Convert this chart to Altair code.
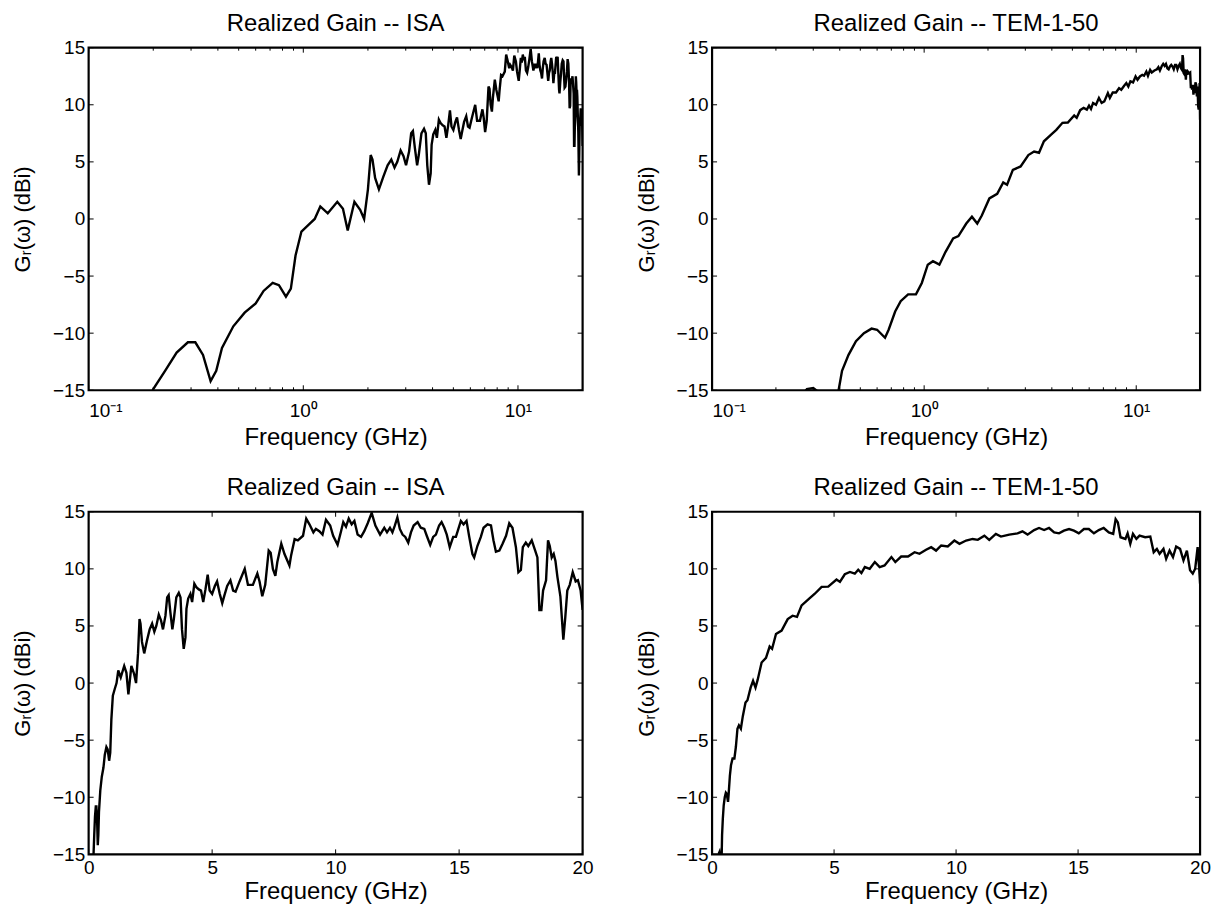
import altair as alt
import pandas as pd

# ---------------- data ----------------
isa_freq = [0.19, 0.2, 0.227, 0.257, 0.29, 0.314, 0.341, 0.37, 0.393, 0.418, 0.472, 0.533, 0.60, 0.653,
            0.72, 0.77, 0.83, 0.875, 0.92, 0.98, 1.06, 1.13, 1.2, 1.3, 1.44, 1.53, 1.61, 1.73, 1.84,
            1.92, 2.0, 2.06, 2.1, 2.16, 2.25, 2.36, 2.47, 2.57, 2.66, 2.74, 2.84, 2.93, 3.01, 3.11,
            3.18, 3.24, 3.31, 3.39, 3.45, 3.55, 3.65, 3.72, 3.78, 3.85, 3.92, 3.96, 4.03, 4.12, 4.19,
            4.28, 4.36, 4.46, 4.55, 4.64, 4.73, 4.82, 4.9, 5.0, 5.11, 5.2, 5.31, 5.41, 5.5, 5.61,
            5.74, 5.85, 5.95, 6.11, 6.32, 6.45, 6.65, 6.83, 6.92, 7.03, 7.15, 7.29, 7.37, 7.46, 7.56,
            7.64, 7.8, 7.93, 8.13, 8.2, 8.34, 8.47, 8.68, 8.81, 8.94, 9.1, 9.2, 9.34, 9.47, 9.61,
            9.78, 9.9, 10.08, 10.22, 10.31, 10.42, 10.53, 10.65, 10.76, 10.89, 11.03, 11.16, 11.3,
            11.46, 11.61, 11.8, 11.97, 12.08, 12.2, 12.3, 12.4, 12.5, 12.6, 12.71, 12.82, 12.94,
            13.05, 13.16, 13.32, 13.45, 13.59, 13.69, 13.83, 13.95, 14.06, 14.19, 14.29, 14.4, 14.5,
            14.62, 14.76, 14.87, 14.97, 15.07, 15.18, 15.3, 15.41, 15.54, 15.61, 15.74, 15.88, 15.99,
            16.15, 16.29, 16.39, 16.49, 16.63, 16.76, 16.9, 17.03, 17.16, 17.3, 17.4, 17.5, 17.58,
            17.7, 17.8, 17.94, 18.08, 18.17, 18.25, 18.33, 18.4, 18.52, 18.6, 18.67, 18.75, 18.83,
            18.9, 18.98, 19.1, 19.22, 19.3, 19.38, 19.48, 19.6, 19.72, 19.81, 19.92, 20.0]
isa_gain = [-16.0, -14.9, -13.3, -11.7, -10.8, -10.8, -11.9, -14.2, -13.3, -11.3, -9.4, -8.2, -7.4, -6.3,
            -5.6, -5.8, -6.8, -6.1, -3.2, -1.1, -0.5, 0.0, 1.1, 0.5, 1.5, 0.9, -1.0, 1.5, 0.8,
            0.0, 2.6, 5.6, 5.2, 3.6, 2.6, 3.7, 4.7, 5.2, 4.5, 5.0, 6.0, 5.5, 4.7, 5.9,
            7.5, 7.7, 6.2, 4.7, 5.6, 7.5, 7.9, 7.5, 4.7, 3.0, 4.0, 6.5, 7.4, 7.8, 7.1,
            8.7, 8.4, 8.2, 8.1, 7.1, 8.2, 9.5, 8.1, 7.8, 8.5, 8.9, 7.8, 7.0, 7.7, 8.5,
            9.0, 8.1, 8.0, 8.9, 10.0, 8.6, 8.6, 9.6, 8.9, 7.6, 8.6, 11.6, 11.4, 10.0, 9.4,
            10.6, 12.2, 11.3, 10.3, 11.2, 12.6, 12.5, 12.9, 14.4, 13.9, 13.2, 13.5, 13.3, 13.0, 14.3,
            13.8, 12.9, 12.1, 13.3, 14.1, 13.7, 14.4, 13.9, 14.2, 13.0, 12.8, 13.3, 14.0,
            14.9, 13.8, 13.0, 13.6, 13.2, 13.6, 13.2, 13.8, 14.5, 13.5, 13.0, 12.8, 12.3,
            13.2, 13.8, 14.1, 13.6, 13.5, 12.9, 12.1, 12.8, 13.0, 13.8, 14.1, 13.6, 13.0,
            11.9, 12.8, 12.8, 13.5, 14.2, 13.9, 14.2, 12.8, 11.3, 11.0, 12.0, 12.8, 13.6,
            13.9, 13.8, 12.5, 11.5, 11.6, 12.2, 12.9, 14.0, 13.6, 11.9, 9.7, 9.9, 11.9,
            12.3, 12.0, 12.5, 11.6, 11.0, 6.4, 6.4, 8.1, 9.0, 12.5, 12.0, 11.0, 11.3,
            10.7, 9.3, 7.6, 3.8, 5.8, 8.1, 8.6, 9.7, 8.9, 9.0, 8.1, 6.4]

tem_freq = [0.25, 0.28, 0.30, 0.32, 0.36, 0.395, 0.41, 0.44, 0.477, 0.52, 0.565, 0.60, 0.654, 0.68,
            0.73, 0.775, 0.84, 0.915, 0.975, 1.04, 1.1, 1.18, 1.26, 1.37, 1.45, 1.58, 1.68, 1.78,
            1.87, 2.03, 2.21, 2.36, 2.46, 2.62, 2.85, 3.1, 3.3, 3.48, 3.67, 3.98, 4.2, 4.49, 4.76,
            5.1, 5.24, 5.44, 5.65, 5.85, 5.99, 6.12, 6.26, 6.46, 6.67, 6.87, 7.07, 7.35, 7.51, 7.75,
            8.03, 8.3, 8.5, 8.77, 8.98, 9.18, 9.39, 9.66, 9.93, 10.14, 10.41, 10.68, 10.89, 11.16,
            11.36, 11.63, 11.84, 12.18, 12.52, 12.72, 12.93, 13.2, 13.4, 13.61, 13.81, 14.02, 14.22,
            14.42, 14.63, 14.83, 15.03, 15.24, 15.44, 15.65, 15.85, 16.05, 16.26, 16.44, 16.54,
            16.63, 16.74, 16.94, 17.03, 17.14, 17.25, 17.39, 17.52, 17.75, 17.96, 18.1, 18.23,
            18.34, 18.5, 18.61, 18.75, 18.89, 19.02, 19.18, 19.32, 19.46, 19.59, 19.7, 19.8, 19.9,
            19.96, 20.0]
tem_gain = [-16.0, -14.9, -14.8, -15.2, -16.5, -15.0, -13.3, -11.9, -10.7, -10.0, -9.6, -9.7, -10.4, -9.7,
            -8.1, -7.2, -6.6, -6.6, -5.6, -4.0, -3.7, -4.0, -2.9, -1.7, -1.5, -0.4, 0.2, -0.4,
            0.3, 1.8, 2.2, 3.2, 3.0, 4.3, 4.6, 5.6, 5.9, 5.8, 6.8, 7.4, 7.8, 8.42, 8.45,
            9.06, 8.86, 9.53, 9.73, 9.58, 9.93, 9.64, 10.16, 10.01, 10.6, 10.16, 10.3, 11.03, 10.6, 11.08,
            11.08, 11.46, 11.32, 11.67, 11.9, 11.6, 12.05, 11.96, 12.48, 12.19, 12.48, 12.62, 12.54, 12.91,
            12.54, 13.06, 12.83, 13.0, 13.11, 13.29, 13.0, 13.4, 13.58, 13.4, 13.58, 13.2, 13.11,
            13.35, 13.49, 13.35, 13.11, 13.49, 13.49, 13.11, 13.4, 13.58, 13.2, 13.06, 14.35,
            14.07, 12.77, 12.62, 13.11, 12.19, 13.06, 12.62, 12.91, 12.77, 12.83, 11.46, 11.75,
            11.32, 11.75, 10.88, 11.6, 11.03, 11.96, 11.75, 10.74, 11.6, 9.87, 9.58, 10.01, 11.9,
            10.16, 8.7]

log_major = [0.1, 1, 10]
log_minor = [0.2, 0.3, 0.4, 0.5, 0.6, 0.7, 0.8, 0.9, 2, 3, 4, 5, 6, 7, 8, 9]
lin_major = [0, 5, 10, 15, 20]
y_major = [-15, -10, -5, 0, 5, 10, 15]

titles = ["Realized Gain -- ISA", "Realized Gain -- TEM-1-50"]
x_title = "Frequency (GHz)"
y_title = "Gᵣ(ω) (dBi)"

FONT = "Liberation Sans"
W_L, W_R, H = 496, 490, 344
TICK = 5
MINOR = 3
LABEL_FS = 19


def panel(freq, gain, title, log, width, xtitle_y, label_pad):
    df = pd.DataFrame({"f": freq, "g": gain})
    if log:
        xscale = alt.Scale(type="log", domain=[0.1, 20], nice=False)
        xaxis = alt.Axis(values=log_major, ticks=False, domain=False, grid=False,
                         labelExpr="datum.value < 0.5 ? '10⁻¹' : (datum.value < 5 ? '10⁰' : '10¹')",
                         labelFontSize=LABEL_FS, labelPadding=label_pad, title=x_title,
                         titleY=xtitle_y, titleBaseline="alphabetic")
        majors = log_major
    else:
        xscale = alt.Scale(domain=[0, 20], nice=False, zero=False)
        xaxis = alt.Axis(values=lin_major, ticks=False, domain=False, grid=False,
                         labelFontSize=LABEL_FS, labelPadding=label_pad, title=x_title,
                         titleY=xtitle_y, titleBaseline="alphabetic", labelFlush=False)
        majors = lin_major
    yscale = alt.Scale(domain=[-15, 15], nice=False, zero=False)
    yaxis = alt.Axis(values=y_major, ticks=False, domain=False, grid=False,
                     labelFontSize=LABEL_FS, labelPadding=4, title=y_title, titleAngle=270,
                     titleFontSize=22, titleX=-59, titleY=H / 2, titleBaseline="alphabetic",
                     titleAlign="center")

    X = lambda fld: alt.X(fld, scale=xscale, axis=xaxis)
    Y = lambda fld: alt.Y(fld, scale=yscale, axis=yaxis)

    line = alt.Chart(df).mark_line(color="black", strokeWidth=2.4, clip=True).encode(
        x=X("f:Q"), y=Y("g:Q"))
    xt = pd.DataFrame({"t": majors})
    yt = pd.DataFrame({"t": y_major})
    rule = dict(color="black", strokeWidth=1)
    layers = [
        alt.Chart(xt).mark_rule(**rule).encode(x=X("t:Q"), y=alt.value(H), y2=alt.value(H - TICK)),
        alt.Chart(xt).mark_rule(**rule).encode(x=X("t:Q"), y=alt.value(0), y2=alt.value(TICK)),
        alt.Chart(yt).mark_rule(**rule).encode(y=Y("t:Q"), x=alt.value(0), x2=alt.value(TICK)),
        alt.Chart(yt).mark_rule(**rule).encode(y=Y("t:Q"), x=alt.value(width), x2=alt.value(width - TICK)),
    ]
    if log:
        mt = pd.DataFrame({"t": log_minor})
        layers += [
            alt.Chart(mt).mark_rule(**rule).encode(x=X("t:Q"), y=alt.value(H), y2=alt.value(H - MINOR)),
            alt.Chart(mt).mark_rule(**rule).encode(x=X("t:Q"), y=alt.value(0), y2=alt.value(MINOR)),
        ]
    return alt.layer(line, *layers).properties(
        width=width, height=H,
        title=alt.TitleParams(title, fontSize=24, font=FONT, fontWeight="normal", color="black",
                              offset=-16, frame="group", baseline="alphabetic", anchor="middle"),
    )


p1 = panel(isa_freq, isa_gain, titles[0], True, W_L, 54, 11)
p2 = panel(tem_freq, tem_gain, titles[1], True, W_R, 54, 11)
p3 = panel(isa_freq, isa_gain, titles[0], False, W_L, 44, 4)
p4 = panel(tem_freq, tem_gain, titles[1], False, W_R, 44, 4)

chart = alt.concat(p1, p2, p3, p4, columns=2, spacing={"row": 122, "column": 130},
                   bounds="flush").properties(
    padding={"left": 10, "top": 8, "right": 5, "bottom": 5},
    background="white",
).configure_view(
    stroke="black", strokeWidth=2.2
).configure_axis(
    labelFont=FONT, titleFont=FONT, labelColor="black", titleColor="black",
    titleFontSize=24, titleFontWeight="normal",
)

chart.save("out.html", embed_options={"renderer": "svg", "actions": False})
